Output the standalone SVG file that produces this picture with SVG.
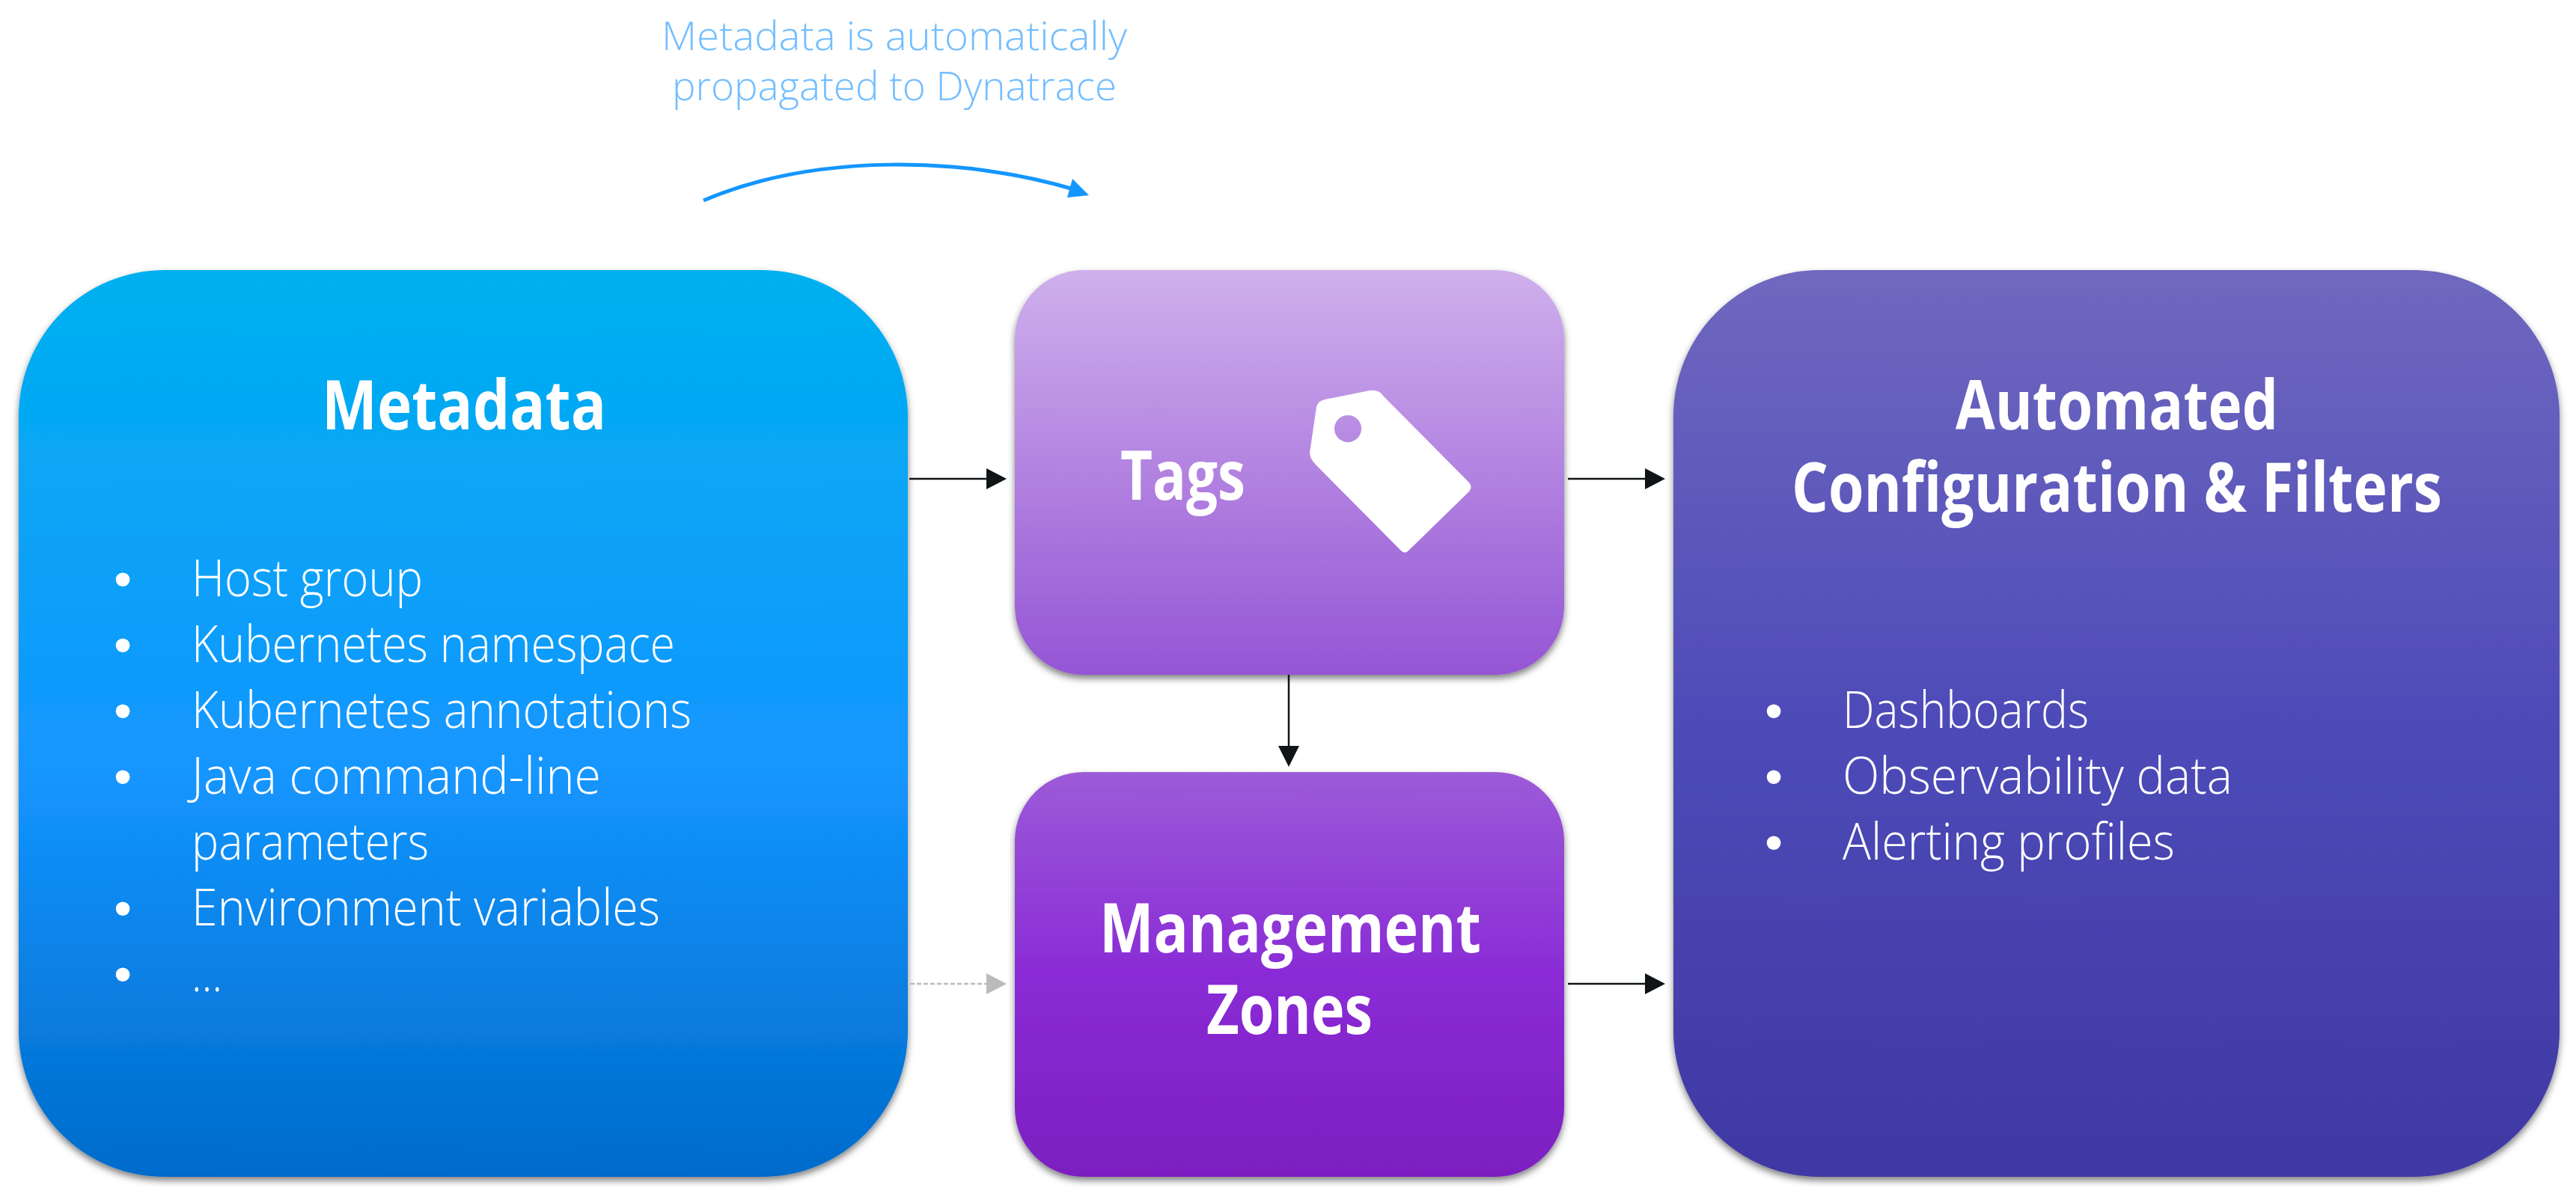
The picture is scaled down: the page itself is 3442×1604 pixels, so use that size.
<svg xmlns="http://www.w3.org/2000/svg" width="3442" height="1604" viewBox="0 0 3442 1604">
<style>
text{font-family:"Open Sans","Noto Sans","Liberation Sans",sans-serif;fill:#fff}
.h{font-size:91px;font-weight:700}
.b{font-size:69px;font-weight:300}
.d{font-size:69px;font-family:"Liberation Sans",sans-serif}
.n{font-size:53px;font-weight:300;fill:#73BEFF}
.box{filter:url(#sh)}
.c{stroke:#0f1417;stroke-width:2.5;fill:none}
.hd{fill:#0f1417}
</style>
<defs>
<filter id="sh" x="-5%" y="-5%" width="110%" height="110%"><feDropShadow dx="0" dy="5" stdDeviation="5" flood-color="#000" flood-opacity=".5"/></filter>
<linearGradient id="g1" x1="0" y1="0" x2="0" y2="1"><stop offset="0" stop-color="#00B0EF"/><stop offset=".55" stop-color="#1496FF"/><stop offset="1" stop-color="#006BCB"/></linearGradient>
<linearGradient id="g2" x1="0" y1="0" x2="0" y2="1"><stop offset="0" stop-color="#CFB0EC"/><stop offset="1" stop-color="#9555D5"/></linearGradient>
<linearGradient id="g3" x1="0" y1="0" x2="0" y2="1"><stop offset="0" stop-color="#9C5BD8"/><stop offset=".5" stop-color="#8A2BD6"/><stop offset="1" stop-color="#7C1FC0"/></linearGradient>
<linearGradient id="g4" x1="0" y1="0" x2="0" y2="1"><stop offset="0" stop-color="#6F68BF"/><stop offset=".5" stop-color="#4E4BB8"/><stop offset="1" stop-color="#3F38A3"/></linearGradient>
</defs>
<g id="note">
<text class="n" x="884" y="67" textLength="622" lengthAdjust="spacingAndGlyphs">Metadata is automatically</text>
<text class="n" x="898" y="134" textLength="594" lengthAdjust="spacingAndGlyphs">propagated to Dynatrace</text>
</g>
<g id="metadata">
<rect class="box" x="25" y="361" width="1188" height="1212" rx="195" fill="url(#g1)"/>
<text class="h" x="430" y="574" textLength="380" lengthAdjust="spacingAndGlyphs">Metadata</text>
<text class="d" x="152" y="797">•</text><text class="b" x="256" y="797" textLength="309" lengthAdjust="spacingAndGlyphs">Host group</text>
<text class="d" x="152" y="885">•</text><text class="b" x="256" y="885" textLength="646" lengthAdjust="spacingAndGlyphs">Kubernetes namespace</text>
<text class="d" x="152" y="973">•</text><text class="b" x="256" y="973" textLength="668" lengthAdjust="spacingAndGlyphs">Kubernetes annotations</text>
<text class="d" x="152" y="1061">•</text><text class="b" x="256" y="1061" textLength="547" lengthAdjust="spacingAndGlyphs">Java command-line</text>
<text class="b" x="256" y="1149" textLength="317" lengthAdjust="spacingAndGlyphs">parameters</text>
<text class="d" x="152" y="1237">•</text><text class="b" x="256" y="1237" textLength="626" lengthAdjust="spacingAndGlyphs">Environment variables</text>
<text class="d" x="152" y="1325">•</text><text class="b" x="256" y="1325" textLength="41" lengthAdjust="spacingAndGlyphs">…</text>
</g>
<g id="tags">
<rect class="box" x="1356" y="361" width="734" height="541" rx="92" fill="url(#g2)"/>
<text class="h" x="1497" y="668" textLength="167" lengthAdjust="spacingAndGlyphs">Tags</text>
<path fill="#fff" fill-rule="evenodd" d="M1770 534L1830 522Q1843 520 1849 530L1963 645Q1968 651 1963 657L1882 736Q1877 741 1872 736L1758 621Q1750 613 1750 605L1759 544Q1761 536 1770 534ZM1801 555a18 18 0 1 0 .01 0Z"/>
</g>
<g id="zones">
<rect class="box" x="1356" y="1032" width="734" height="541" rx="92" fill="url(#g3)"/>
<text class="h" x="1469" y="1273" textLength="510" lengthAdjust="spacingAndGlyphs">Management</text>
<text class="h" x="1612" y="1382" textLength="222" lengthAdjust="spacingAndGlyphs">Zones</text>
</g>
<g id="automated">
<rect class="box" x="2236" y="361" width="1184" height="1212" rx="195" fill="url(#g4)"/>
<text class="h" x="2613" y="574" textLength="431" lengthAdjust="spacingAndGlyphs">Automated</text>
<text class="h" x="2394" y="684" textLength="869" lengthAdjust="spacingAndGlyphs">Configuration &amp; Filters</text>
<text class="d" x="2358" y="973">•</text><text class="b" x="2462" y="973" textLength="329" lengthAdjust="spacingAndGlyphs">Dashboards</text>
<text class="d" x="2358" y="1061">•</text><text class="b" x="2462" y="1061" textLength="521" lengthAdjust="spacingAndGlyphs">Observability data</text>
<text class="d" x="2358" y="1149">•</text><text class="b" x="2462" y="1149" textLength="444" lengthAdjust="spacingAndGlyphs">Alerting profiles</text>
</g>
<g id="connectors">
<path d="M940 268C1090 204 1290 209 1438 254" fill="none" stroke="#1496ff" stroke-width="5"/>
<path d="M1433 239L1455 261L1426 264Z" fill="#1496ff"/>
<path class="c" d="M1215 640H1320"/><path class="hd" d="M1318 626L1345 640L1318 654Z"/>
<path class="c" d="M2095 640H2200"/><path class="hd" d="M2198 626L2225 640L2198 654Z"/>
<path class="c" d="M1722 902V999"/><path class="hd" d="M1708 997L1722 1025L1736 997Z"/>
<path class="c" d="M2095 1315H2200"/><path class="hd" d="M2198 1301L2225 1315L2198 1329Z"/>
<path d="M1216 1315H1320" fill="none" stroke="#bbb" stroke-width="2.5" stroke-dasharray="6 3"/><path fill="#bbb" d="M1318 1301L1345 1315L1318 1329Z"/>
</g>
</svg>
